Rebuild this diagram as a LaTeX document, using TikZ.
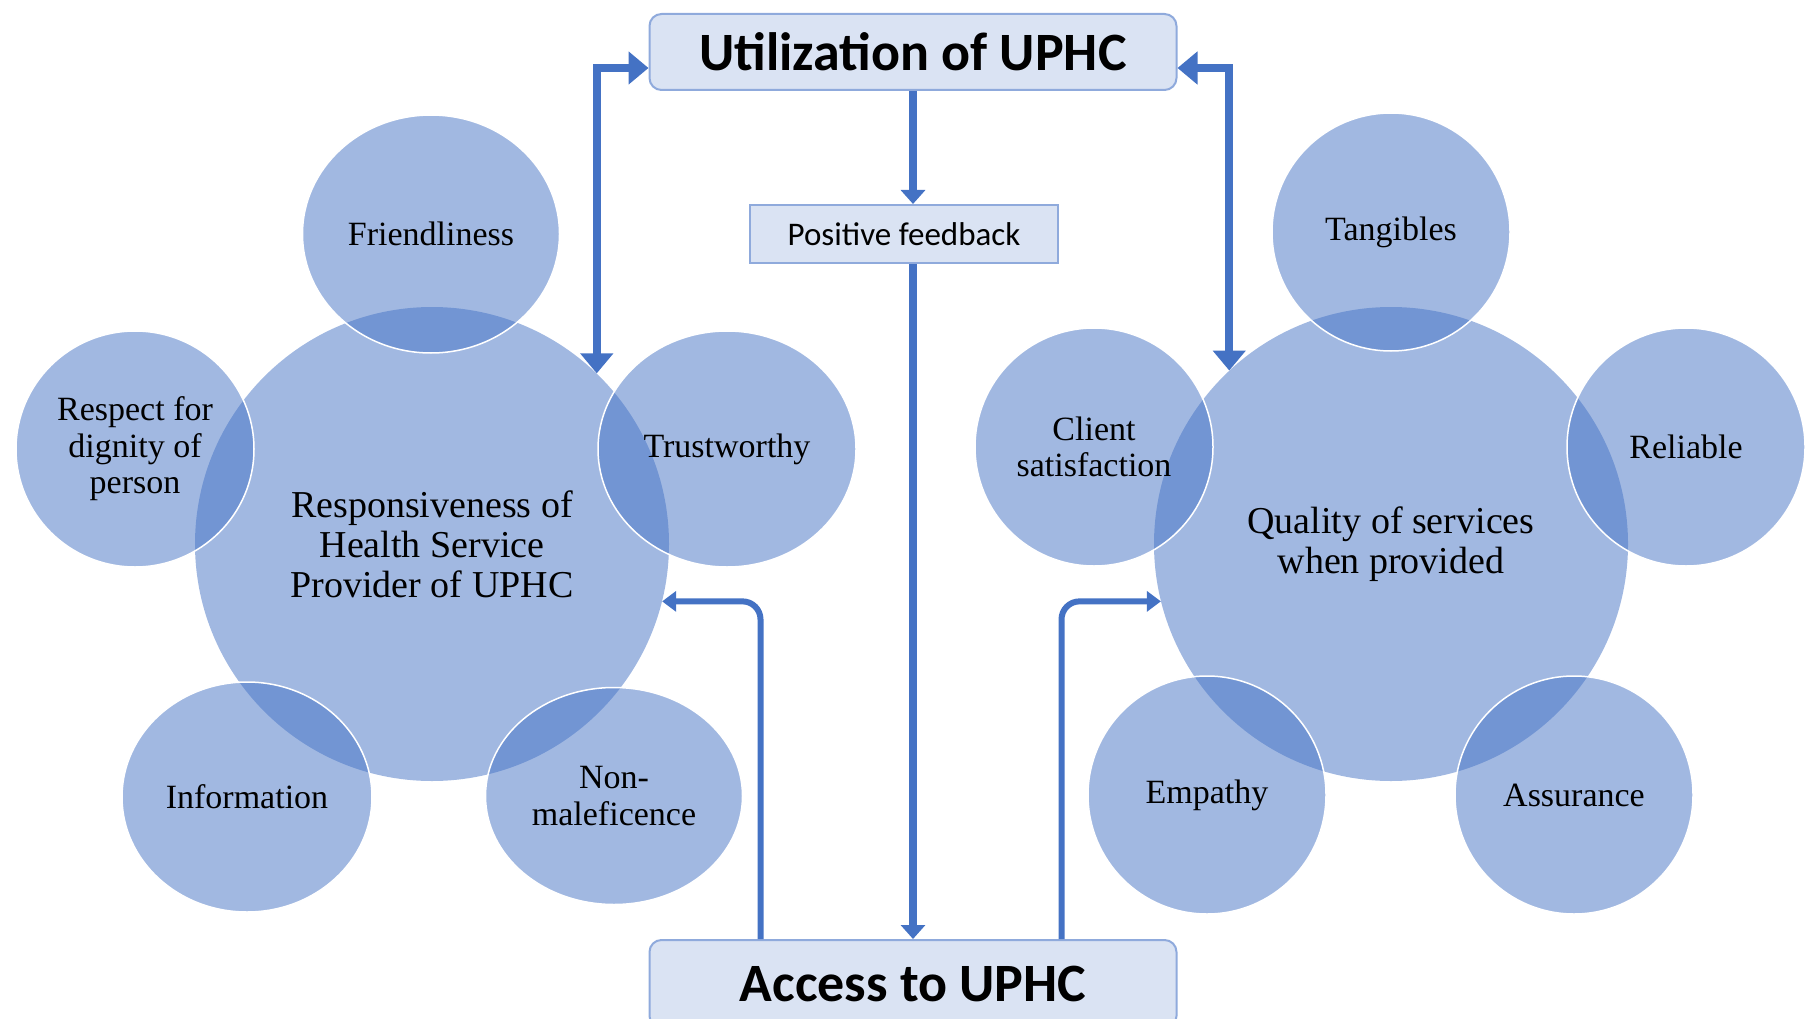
\documentclass[tikz,border=0pt]{standalone}
\usepackage{fontspec}
\setmainfont{Liberation Serif}
\newfontfamily\boxfont{Carlito}
\usetikzlibrary{arrows.meta,shapes.geometric,positioning}

\definecolor{accblue}{HTML}{4472C4}
\definecolor{boxfill}{HTML}{DAE3F3}
\definecolor{boxline}{HTML}{8FAADC}

\begin{document}
\begin{tikzpicture}[x=1pt,y=-1pt,
  bigcirc/.style={circle, fill=accblue, fill opacity=0.5, text opacity=1, inner sep=0pt,
    minimum size=474pt, align=center, font=\fontsize{38}{40}\selectfont},
  smallcirc/.style={ellipse, fill=accblue, fill opacity=0.5, text opacity=1, draw=white,
    line width=1.5pt, inner sep=0pt, align=center, font=\fontsize{34}{36.5}\selectfont},
  mainbox/.style={draw=boxline, fill=boxfill, rounded corners=12pt, line width=2pt,
    minimum width=527pt, minimum height=76pt, font=\boxfont\bfseries\fontsize{54}{56}\selectfont},
  fbbox/.style={draw=boxline, fill=boxfill, line width=2pt, minimum width=308pt,
    minimum height=58pt, font=\boxfont\fontsize{33}{35}\selectfont},
  dblarr/.style={draw=accblue, line width=8pt, {Triangle[width=32pt,length=20pt]}-{Triangle[width=32pt,length=20pt]}},
  midarr/.style={draw=accblue, line width=8pt, -{Triangle[width=24pt,length=14pt]}},
  sidearr/.style={draw=accblue, line width=6pt, rounded corners=18pt, -{Triangle[width=20pt,length=14pt]}},
]
\useasboundingbox (0,0) rectangle (1815,1019);

% boxes
\node[mainbox] (util) at (913,52) {Utilization of UPHC};
\node[fbbox] (fb) at (904,234) {Positive feedback};
\node[mainbox, minimum height=88pt] (access) at (913,984) {Access to UPHC};

% left cluster
\node[bigcirc] (respL) at (432,544) {Responsiveness of\\Health Service\\Provider of UPHC};
\node[smallcirc, minimum width=257pt, minimum height=238pt] (friend) at (431,234) {Friendliness};
\node[smallcirc, minimum width=238pt, minimum height=236pt] (respect) at (135,449) {Respect for\\dignity of\\person};
\node[smallcirc, minimum width=258pt, minimum height=236pt] (trust) at (727,449) {Trustworthy};
\node[smallcirc, minimum width=250pt, minimum height=230pt] (info) at (247,797) {Information};
\node[smallcirc, minimum width=257pt, minimum height=217pt] (nonmal) at (614,796) {Non-\\maleficence};

% right cluster
\node[bigcirc] (qualR) at (1391,544) {Quality of services\\when provided};
\node[smallcirc, minimum size=238pt] (tang) at (1391,232) {Tangibles};
\node[smallcirc, minimum size=238pt] (client) at (1094,447) {Client\\satisfaction};
\node[smallcirc, minimum size=238pt] (reli) at (1686,447) {Reliable};
\node[smallcirc, minimum size=238pt] (empathy) at (1207,795) {Empathy};
\node[smallcirc, minimum size=238pt] (assure) at (1574,795) {Assurance};

% connectors
\draw[midarr] (util.south) -- (util.south |- fb.north);
\draw[midarr] (fb.south -| util.south) -- (access.north -| util.south);
\draw[dblarr] ([yshift=-16pt]util.west) -| (respL.46);
\draw[dblarr] ([yshift=-16pt]util.east) -| (qualR.133);
\draw[sidearr] ([xshift=112pt]access.north west) |- (respL.-14);
\draw[sidearr] ([xshift=-116pt]access.north east) |- (qualR.194);
\end{tikzpicture}
\end{document}
